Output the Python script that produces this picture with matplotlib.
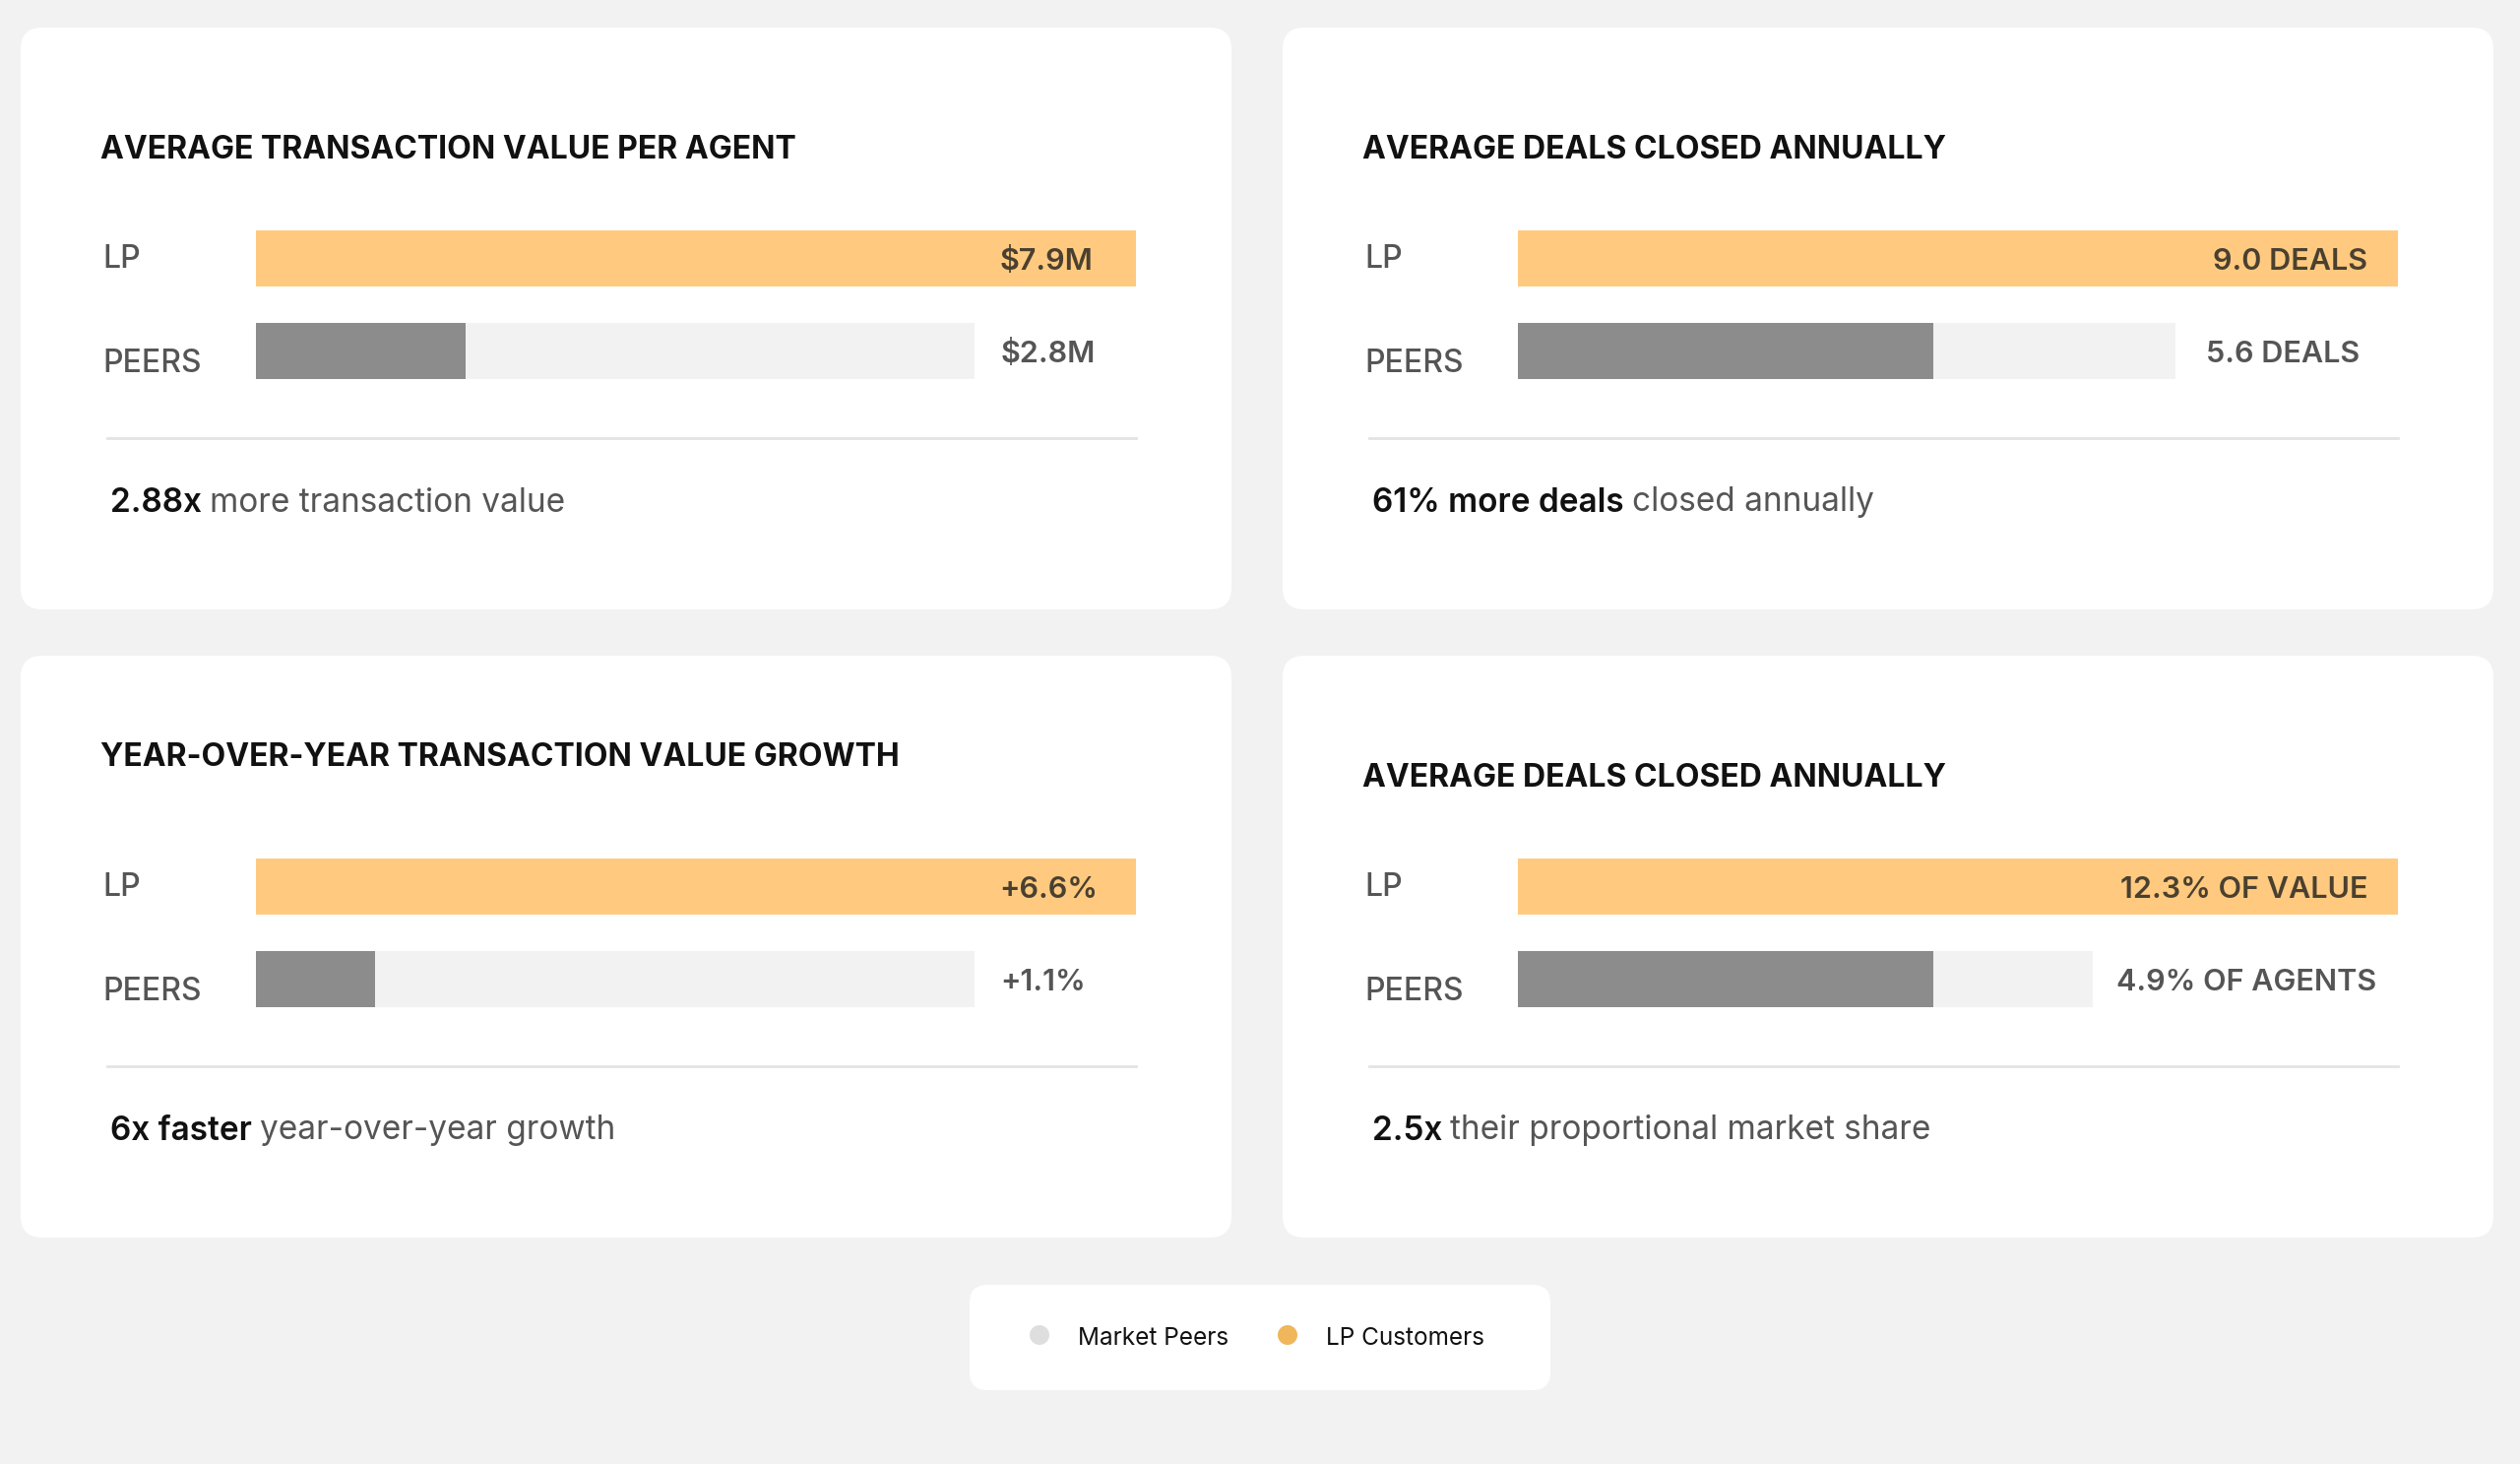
import matplotlib
matplotlib.use("Agg")
import matplotlib.pyplot as plt
from matplotlib.patches import FancyBboxPatch, Circle

# ---------------- data ----------------
titles = [
    "AVERAGE TRANSACTION VALUE PER AGENT",
    "AVERAGE DEALS CLOSED ANNUALLY",
    "YEAR-OVER-YEAR TRANSACTION VALUE GROWTH",
    "AVERAGE DEALS CLOSED ANNUALLY",
]
row_labels = ["LP", "PEERS"]
lp_value_labels = ["$7.9M", "9.0 DEALS", "+6.6%", "12.3% OF VALUE"]
peer_value_labels = ["$2.8M", "5.6 DEALS", "+1.1%", "4.9% OF AGENTS"]
lp_fill = [1.0, 1.0, 1.0, 1.0]
peer_fill = [0.238, 0.472, 0.135, 0.472]
peer_track = [0.817, 0.747, 0.817, 0.653]
footer_bold = ["2.88x", "61% more deals", "6x faster", "2.5x"]
footer_rest = ["more transaction value", "closed annually", "year-over-year growth",
               "their proportional market share"]
legend_labels = ["Market Peers", "LP Customers"]

# ---------------- style / layout ----------------
W, H = 2560, 1487
BG = "#f2f2f2"
LP_COLOR = "#ffca80"
PEER_COLOR = "#8c8c8c"
TRACK_COLOR = "#f2f2f2"
LEG_COLORS = ["#dedede", "#efb65c"]
FONT = ["Inter", "DejaVu Sans"]
plt.rcParams["font.family"] = FONT

card_origin = [(21, 28), (1303, 28), (21, 666), (1303, 666)]
card_w, card_h = 1230, 591
title_y = [121, 121, 100, 121]
lp_val_pad = [-44, -31, -39, -31]
peer_val_pad = [26, 31, 26, 24]

fig = plt.figure(figsize=(W / 100, H / 100), dpi=100, facecolor=BG)
bg = fig.add_axes([0, 0, 1, 1])
bg.set_xlim(0, W)
bg.set_ylim(H, 0)
bg.axis("off")
bg.set_facecolor(BG)


def px_axes(x, y, w, h):
    return fig.add_axes([x / W, 1 - (y + h) / H, w / W, h / H])


for i in range(4):
    cx, cy = card_origin[i]
    bg.add_patch(FancyBboxPatch((cx, cy), card_w, card_h,
                                boxstyle="round,pad=0,rounding_size=22",
                                fc="white", ec="none", zorder=1))
    # title
    bg.text(cx + 81, cy + title_y[i], titles[i], fontsize=23, fontweight="bold",
            color="#111111", ha="left", va="center_baseline", zorder=3)
    # row labels
    bg.text(cx + 83, cy + 232, row_labels[0], fontsize=23, fontweight="medium",
            color="#555555", ha="left", va="center_baseline", zorder=3)
    bg.text(cx + 83, cy + 338, row_labels[1], fontsize=23, fontweight="medium",
            color="#555555", ha="left", va="center_baseline", zorder=3)

    # bars
    ax = px_axes(cx + 239, cy + 206, 894, 151)
    ax.set_xlim(0, 1)
    bh = 57 / 94
    ax.set_ylim(1 + bh / 2, -bh / 2)
    ax.axis("off")
    ax.barh([0], [lp_fill[i]], height=bh, color=LP_COLOR, zorder=2)
    ax.barh([1], [peer_track[i]], height=bh, color=TRACK_COLOR, zorder=1)
    ax.barh([1], [peer_fill[i]], height=bh, color=PEER_COLOR, zorder=2)
    ax.annotate(lp_value_labels[i], xy=(lp_fill[i], 0), xytext=(lp_val_pad[i], 0),
                textcoords="offset pixels", ha="right", va="center_baseline",
                fontsize=22, fontweight="semibold", color="#4a4030", zorder=4)
    ax.annotate(peer_value_labels[i], xy=(peer_track[i], 1), xytext=(peer_val_pad[i], 0),
                textcoords="offset pixels", ha="left", va="center_baseline",
                fontsize=22, fontweight="semibold", color="#555555", zorder=4)

    # divider
    bg.plot([cx + 88, cx + 1133], [cy + 417, cy + 417], color="#e3e3e3", lw=2, zorder=3)

    # footer
    t1 = bg.text(cx + 91, cy + 479, footer_bold[i], fontsize=24, fontweight="semibold",
                 color="#111111", ha="left", va="center_baseline", zorder=3)
    bg.annotate(footer_rest[i], xy=(1, 0), xycoords=t1, xytext=(8, 0),
                textcoords="offset pixels", ha="left", va="bottom",
                fontsize=24, color="#555555", zorder=3)

# legend box
bg.add_patch(FancyBboxPatch((985, 1305), 590, 107,
                            boxstyle="round,pad=0,rounding_size=18",
                            fc="white", ec="none", zorder=1))
dot_x = [1056, 1308]
text_x = [1095, 1347]
for k in range(2):
    bg.add_patch(Circle((dot_x[k], 1356), 10, fc=LEG_COLORS[k], ec="none", zorder=3))
    bg.text(text_x[k], 1357, legend_labels[k], fontsize=17.5, color="#111111",
            ha="left", va="center_baseline", zorder=3)

fig.savefig("out.png", dpi=100, facecolor=BG)
